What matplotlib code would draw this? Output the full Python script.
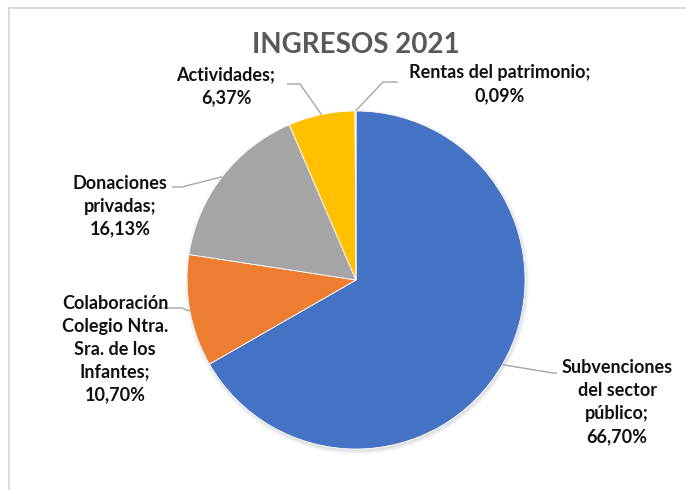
import numpy as np
import matplotlib as mpl

mpl.use("agg")
from matplotlib import pyplot as plt
from matplotlib.lines import Line2D

# data
categories = [
    "Subvenciones\ndel sector\npúblico",
    "Colaboración\nColegio Ntra.\nSra. de los\nInfantes",
    "Donaciones\nprivadas",
    "Actividades",
    "Rentas del patrimonio",
]
values = [66.70, 10.70, 16.13, 6.37, 0.09]
colors = ["#4472C4", "#ED7D31", "#A5A5A5", "#FFC000", "#5B9BD5"]
title = "INGRESOS 2021"

# layout (pixels of the 686x490 picture)
W, H = 686, 490
CX, CY, R = 356, 280, 169
# label centre, elbow of leader, end of leader
label_pos = [(617, 402), (115, 349), (120, 206), (226, 86), (500, 84)]
elbows = [(553, 373), (182, 308), (182, 187), (300, 84), (383, 82)]
ends = [(557, 373), (152, 308), (172, 187), (287, 84), (398, 82)]


def px(x, y):
    return (x - CX) / R, (CY - y) / R


def fmt(v):
    return f"{v:.2f}".replace(".", ",") + "%"


plt.rcParams["font.family"] = ["Lato", "DejaVu Sans"]

fig = plt.figure(figsize=(W / 100, H / 100), dpi=100, facecolor="w")
ax = fig.add_axes([0, 0, 1, 1])

# soft shadow
for k in range(6):
    ax.add_patch(plt.Circle((0.006, -0.012), 1.0 + 0.004 * k, color="k",
                            alpha=0.018, lw=0, zorder=0))

wedges, _ = ax.pie(values, colors=colors, startangle=90, counterclock=False,
                   radius=1.0, center=(0, 0), frame=True,
                   wedgeprops=dict(edgecolor="white", linewidth=0.6))
ax.set_xlim(-CX / R, (W - CX) / R)
ax.set_ylim((CY - H) / R, CY / R)
ax.set_aspect("equal")
ax.axis("off")

for w, name, v, lp, el, en in zip(wedges, categories, values, label_pos, elbows, ends):
    mid = np.deg2rad((w.theta1 + w.theta2) / 2)
    p0 = (np.cos(mid), np.sin(mid))
    p1 = px(*el)
    p2 = px(*en)
    ax.plot([p0[0], p1[0], p2[0]], [p0[1], p1[1], p2[1]], color="#A6A6A6",
            lw=1.0, zorder=3, solid_capstyle="butt")
    ax.text(*px(*lp), f"{name};\n{fmt(v)}", ha="center", va="center",
            fontsize=13, fontweight="bold", color="#111111", linespacing=1.42)

ax.text(*px(356, 45), title, ha="center", va="center", fontsize=20,
        fontweight="bold", color="#595959")

# chart frame (only top and left are visible in the crop)
fig.add_artist(Line2D([9 / W, 9 / W], [0, 1 - 8 / H], color="#D9D9D9", lw=1.3,
                      transform=fig.transFigure))
fig.add_artist(Line2D([9 / W, 1], [1 - 8 / H, 1 - 8 / H], color="#D9D9D9", lw=1.3,
                      transform=fig.transFigure))

fig.savefig("out.png", dpi=100, facecolor="w")
